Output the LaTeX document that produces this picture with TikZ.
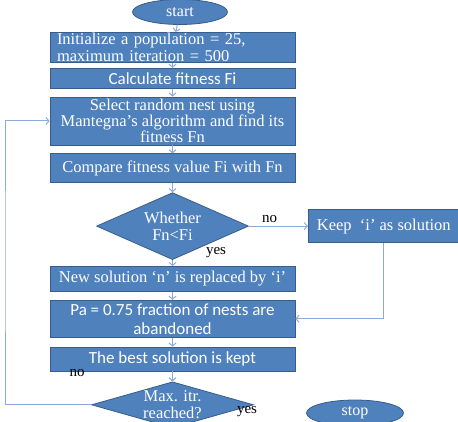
\documentclass[tikz,border=0pt]{standalone}
\usepackage{fontspec}
\setmainfont{Liberation Serif}
\newfontfamily\calibfont{Carlito}
\usetikzlibrary{positioning}
\usetikzlibrary{shapes.geometric}
\usetikzlibrary{arrows.meta}
\definecolor{boxblue}{HTML}{4F81BD}
\definecolor{boxedge}{HTML}{385D8A}
\definecolor{linkblue}{HTML}{8EA9DB}

\begin{document}
\begin{tikzpicture}
		[x=1pt, y=-1pt,
		stepbox/.style={rectangle, draw=boxedge, fill=boxblue, line width=0.8pt, text=white, minimum width=245pt, inner sep=0pt, align=center, font=\fontsize{16.5}{17}\selectfont},
		sansbox/.style={stepbox, font=\calibfont\fontsize{17}{19}\selectfont},
		decision/.style={diamond, draw=boxedge, fill=boxblue, line width=0.8pt, text=white, inner sep=0pt, align=center, font=\fontsize{16.5}{17}\selectfont},
		terminal/.style={ellipse, draw=boxedge, fill=boxblue, line width=0.8pt, text=white, minimum width=95pt, minimum height=25pt, inner sep=0pt, font=\fontsize{16}{17}\selectfont},
		link/.style={draw=linkblue, line width=1pt, -{Straight Barb[length=3pt,width=7pt]}},
		answer/.style={font=\fontsize{15}{16}\selectfont, inner sep=0pt}]
		\useasboundingbox (0,0) rectangle (458,422);

		\node[terminal] (start) at (180,12) {start};
		\node[stepbox, anchor=north, minimum height=30pt, align=left, text width=231pt] (init) at (172.5,32) {Initialize a population = 25,\\maximum iteration = 500};
		\node[sansbox, below=5pt of init, minimum height=20pt] (fit) {Calculate fitness Fi};
		\node[stepbox, below=8pt of fit, minimum height=48pt, font=\fontsize{16.5}{16}\selectfont] (select) {Select random nest using\\Mantegna{\char"27}s algorithm and find its\\fitness Fn};
		\node[stepbox, below=8pt of select, minimum height=29pt] (compare) {Compare fitness value Fi with Fn};
		\node[decision, below=9pt of compare, minimum width=152pt, minimum height=67pt, shape aspect=2.27] (better) {Whether\\Fn<Fi};
		\node[stepbox, right=59pt of better, minimum width=151pt, minimum height=33pt] (keep) {Keep\ \ ‘i’ as solution};
		\node[stepbox, below=6pt of better, minimum height=25pt] (replace) {New solution ‘n’ is replaced by ‘i’};
		\node[sansbox, below=8pt of replace, minimum height=37pt] (abandon) {Pa = 0.75 fraction of nests are\\abandoned};
		\node[sansbox, below=9pt of abandon, minimum height=24pt] (best) {The best solution is kept};
		\node[decision, below=10pt of best, minimum width=162pt, minimum height=46pt, shape aspect=3.5] (maxitr) {Max. itr.\\reached?};
		\node[terminal, minimum width=97pt, minimum height=26pt] (stop) at (355,413) {stop};

		\node[answer] (yes1) at (216,253) {yes};
		\node[answer] (no2) at (77,373) {no};
		\node[answer] (yes2) at (247,412) {yes};
		\coordinate (back) at (5,260);

		\draw[link] (start) to (init);
		\draw[link] (init) to (fit);
		\draw[link] (fit) to (select);
		\draw[link] (select) to (compare);
		\draw[link] (compare) to (better);
		\draw[link] (better) to node[answer, above=3pt, pos=0.35] (no1) {no} (keep);
		\draw[link] (better) to (replace);
		\draw[link] (replace) to (abandon);
		\draw[link] (keep) |- (abandon);
		\draw[link] (abandon) to (best);
		\draw[link] (best) to (maxitr);
		\draw[link] (maxitr) -| (back) |- (select);
	\end{tikzpicture}
\end{document}
